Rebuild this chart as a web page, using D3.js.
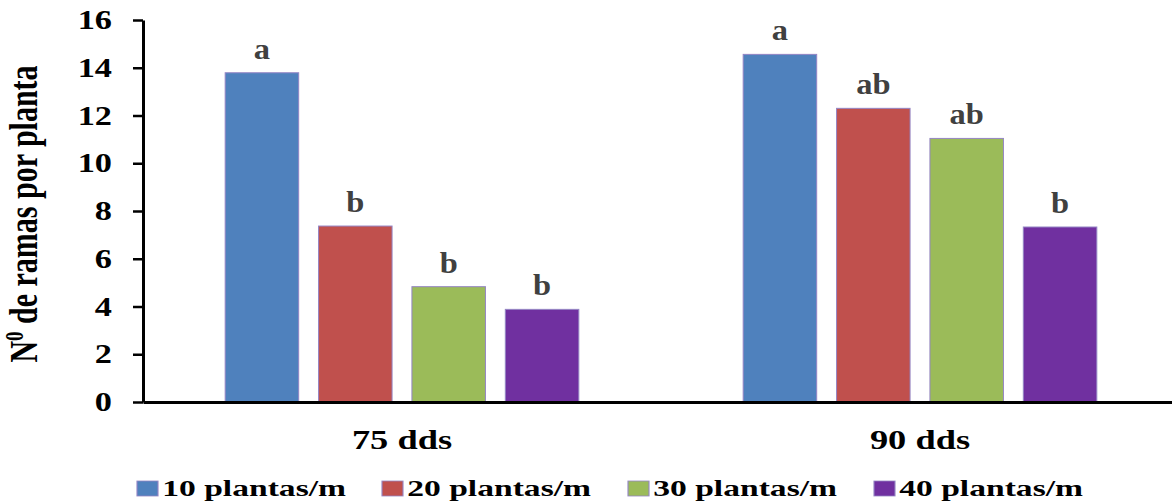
<!DOCTYPE html>
<html>
<head>
<meta charset="utf-8">
<script src="https://cdn.jsdelivr.net/npm/d3@7"></script>
<style>
  html, body { margin: 0; padding: 0; background: #ffffff; }
  svg { display: block; }
  text { font-family: "Liberation Serif", "Times New Roman", serif; font-weight: bold; }
</style>
</head>
<body>
<svg id="chart" width="1172" height="503"></svg>
<script>
// Sampling dates (groups) and planting densities (series)
const groups = ["75 dds", "90 dds"];
const series = ["10 plantas/m", "20 plantas/m", "30 plantas/m", "40 plantas/m"];
const colors = ["#4F81BD", "#C0504D", "#9BBB59", "#7030A0"];

// Branches per plant for each density
const values75 = [13.79, 7.37, 4.83, 3.88];
const values90 = [14.56, 12.30, 11.04, 7.33];

// Mean-separation letters
const letters75 = ["a", "b", "b", "b"];
const letters90 = ["a", "ab", "ab", "b"];

const yTicks = [0, 2, 4, 6, 8, 10, 12, 14, 16];

const rows = [
  { group: groups[0], values: values75, letters: letters75 },
  { group: groups[1], values: values90, letters: letters90 }
];

const svg = d3.select("#chart");
const plotLeft = 143, plotTop = 20, plotBottom = 402, plotRight = 1179;
const textStretch = 1.3;

const x0 = d3.scaleBand().domain(groups).range([plotLeft, plotRight]).padding(0);
const x1 = d3.scaleBand().domain(series).range([0, x0.bandwidth()])
  .paddingInner(20 / 94).paddingOuter(0.88);
const y = d3.scaleLinear().domain([0, 16]).range([plotBottom, plotTop]);

// Bars
const g = svg.selectAll("g.grp").data(rows).join("g")
  .attr("class", "grp")
  .attr("transform", d => `translate(${x0(d.group)},0)`);

g.selectAll("rect").data(d => d.values.map((v, i) => ({ v, s: series[i], c: colors[i] })))
  .join("rect")
  .attr("x", d => x1(d.s))
  .attr("y", d => y(d.v))
  .attr("width", x1.bandwidth())
  .attr("height", d => y(0) - y(d.v))
  .attr("fill", d => d.c)
  .attr("stroke", "#9485C4")
  .attr("stroke-width", 1);

// Letters above bars
g.selectAll("text.letter").data(d => d.values.map((v, i) => ({ v, s: series[i], l: d.letters[i] })))
  .join("text")
  .attr("class", "letter")
  .attr("transform", d => `translate(${x1(d.s) + x1.bandwidth() / 2},${y(d.v) - 14}) scale(1.12,1)`)
  .attr("text-anchor", "middle")
  .attr("font-size", 29)
  .attr("fill", "#404040")
  .text(d => d.l);

// Y axis
const yAxis = svg.append("g")
  .attr("transform", `translate(${plotLeft},0)`)
  .call(d3.axisLeft(y).tickValues(yTicks).tickSize(10).tickSizeOuter(0).tickFormat(d3.format("d")));
yAxis.select(".domain").attr("stroke", "#000").attr("stroke-width", 3);
yAxis.selectAll(".tick line").attr("stroke", "#000").attr("stroke-width", 2.5);
yAxis.selectAll(".tick text")
  .attr("x", 0)
  .attr("transform", `translate(-31,0) scale(${textStretch - 0.03},1)`)
  .attr("font-size", 27)
  .attr("font-family", "Liberation Serif, Times New Roman, serif")
  .attr("font-weight", "bold")
  .attr("fill", "#000");

// X axis
const xAxis = svg.append("g")
  .attr("transform", `translate(0,${y(0)})`)
  .call(d3.axisBottom(x0).tickSize(0).tickSizeOuter(0).tickPadding(0));
xAxis.select(".domain").attr("stroke", "#000").attr("stroke-width", 3);
xAxis.selectAll(".tick text")
  .attr("y", 0)
  .attr("dy", 0)
  .attr("transform", `translate(0,47) scale(${textStretch},1)`)
  .attr("font-size", 28)
  .attr("font-family", "Liberation Serif, Times New Roman, serif")
  .attr("font-weight", "bold")
  .attr("fill", "#000");

// Y axis title
const title = svg.append("text")
  .attr("transform", `translate(37,${(plotTop + plotBottom) / 2 + 3}) scale(1.3,1) rotate(-90)`)
  .attr("text-anchor", "middle")
  .attr("font-size", 30)
  .attr("fill", "#000");
title.append("tspan").text("N");
title.append("tspan").attr("font-size", 19).attr("dy", -11).text("0");
title.append("tspan").attr("dy", 11).text(" de ramas por planta");

// Legend
const legendX = [137, 382, 628, 874];
const lg = svg.selectAll("g.legend").data(series).join("g")
  .attr("class", "legend")
  .attr("transform", (d, i) => `translate(${legendX[i]},496) scale(1.4,1)`);
lg.append("rect")
  .attr("x", 0).attr("y", -15).attr("width", 15).attr("height", 15)
  .attr("fill", (d, i) => colors[i])
  .attr("stroke", "#9485C4").attr("stroke-width", 0.8);
lg.append("text")
  .attr("x", 18).attr("y", 0)
  .attr("font-size", 24)
  .attr("fill", "#000")
  .text(d => d);
</script>
</body>
</html>
